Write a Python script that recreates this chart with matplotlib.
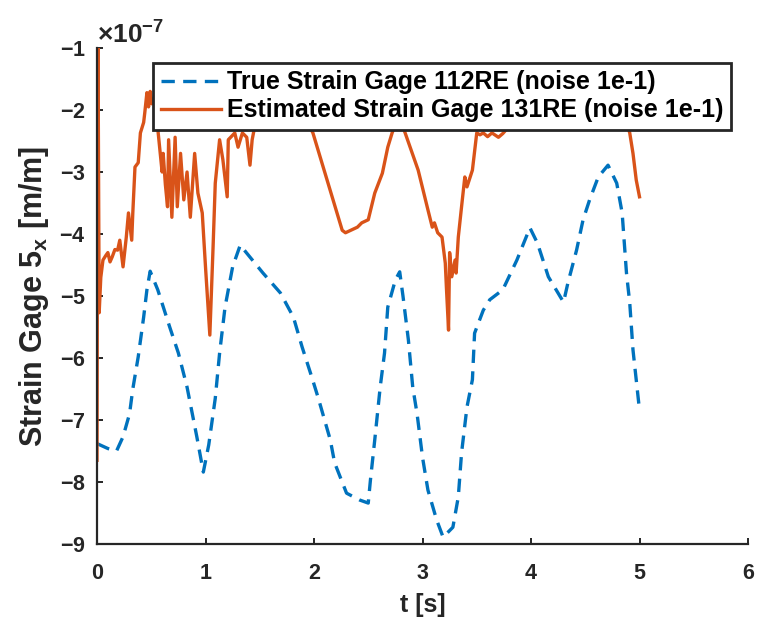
import matplotlib
matplotlib.use("Agg")
import matplotlib.pyplot as plt
import numpy as np
from matplotlib.ticker import ScalarFormatter

plt.rcParams['font.family'] = ['Liberation Sans', 'DejaVu Sans']
plt.rcParams['font.weight'] = 'bold'
plt.rcParams['axes.unicode_minus'] = False
plt.rcParams['mathtext.fontset'] = 'custom'
plt.rcParams['mathtext.rm'] = 'Liberation Sans:bold'
plt.rcParams['mathtext.bf'] = 'Liberation Sans:bold'
plt.rcParams['mathtext.it'] = 'Liberation Sans:bold'
plt.rcParams['mathtext.default'] = 'bf'

# ---- data (strain in units of 1e-7 m/m) ----
t_true = [0, 0.1, 0.18, 0.24, 0.30, 0.33, 0.38, 0.43, 0.46, 0.49, 0.56, 0.67, 0.75,
          0.83, 0.92, 0.98, 1.03, 1.07, 1.09, 1.13, 1.18, 1.25, 1.32, 1.53, 1.69,
          1.81, 1.89, 1.98, 2.04, 2.15, 2.19, 2.30, 2.42, 2.50, 2.52, 2.56, 2.61,
          2.65, 2.68, 2.75, 2.79, 2.82, 2.87, 2.91, 2.95, 3.00, 3.05, 3.13, 3.19,
          3.28, 3.33, 3.36, 3.41, 3.46, 3.48, 3.56, 3.62, 3.74, 3.87, 3.99, 4.06,
          4.16, 4.30, 4.34, 4.42, 4.48, 4.54, 4.62, 4.71, 4.79, 4.84, 4.88, 4.91,
          4.94, 5.00]
y_true = [-7.38, -7.46, -7.50, -7.27, -6.90, -6.50, -5.98, -5.34, -4.90, -4.60,
          -4.90, -5.50, -5.92, -6.47, -7.27, -7.84, -7.40, -6.90, -6.65, -5.92,
          -5.18, -4.53, -4.18, -4.63, -4.95, -5.34, -5.82, -6.31, -6.65, -7.32,
          -7.69, -8.18, -8.29, -8.34, -7.97, -7.32, -6.47, -5.92, -5.18, -4.74,
          -4.61, -5.00, -5.71, -6.47, -6.90, -7.60, -8.13, -8.61, -8.89, -8.73,
          -8.24, -7.53, -6.79, -6.35, -5.60, -5.23, -5.06, -4.90, -4.42, -3.90,
          -4.15, -4.69, -5.10, -4.79, -4.26, -3.77, -3.45, -3.08, -2.89, -3.18,
          -3.66, -4.63, -5.11, -5.87, -6.84]

t_est = [0, 0.008, 0.02, 0.035, 0.055, 0.08, 0.10, 0.12, 0.14, 0.165, 0.19, 0.21,
         0.24, 0.27, 0.29, 0.32, 0.33, 0.35, 0.38, 0.40, 0.43, 0.44, 0.46, 0.475,
         0.49, 0.505, 0.53, 0.56, 0.60, 0.61, 0.63, 0.65, 0.66, 0.69, 0.72, 0.74,
         0.77, 0.80, 0.83, 0.86, 0.90, 0.93, 0.97, 1.00, 1.04, 1.07, 1.09, 1.13,
         1.16, 1.20, 1.21, 1.27, 1.30, 1.34, 1.38, 1.41, 1.43, 1.45, 1.55, 1.70,
         1.85, 1.97, 1.99, 2.26, 2.29, 2.40, 2.44, 2.50, 2.56, 2.63, 2.68, 2.72,
         2.78, 2.84, 2.96, 3.05, 3.09, 3.11, 3.14, 3.18, 3.21, 3.22, 3.24, 3.25,
         3.27, 3.30, 3.31, 3.33, 3.36, 3.39, 3.41, 3.46, 3.50, 3.53, 3.56, 3.60,
         3.64, 3.70, 3.74, 3.78, 3.85, 4.10, 4.40, 4.70, 4.88, 4.91, 4.94, 4.97,
         5.00]
y_est = [-7.65, -0.50, -5.27, -4.70, -4.42, -4.35, -4.30, -4.45, -4.37, -4.25,
         -4.26, -4.10, -4.53, -4.05, -3.66, -4.10, -3.66, -2.92, -2.85, -2.37,
         -2.20, -2.05, -1.72, -1.95, -1.70, -1.90, -1.80, -2.30, -3.00, -2.70,
         -3.20, -3.56, -2.48, -3.73, -2.44, -3.56, -2.70, -3.45, -3.00, -3.73,
         -2.70, -3.34, -3.66, -4.53, -5.63, -4.20, -3.18, -2.48, -2.80, -3.40,
         -2.48, -2.37, -2.60, -2.37, -2.44, -2.89, -2.48, -2.30, -2.00, -1.80,
         -2.00, -2.30, -2.37, -3.94, -3.98, -3.89, -3.82, -3.77, -3.34, -3.02,
         -2.60, -2.37, -2.10, -2.37, -2.97, -3.61, -3.89, -3.82, -3.98, -4.05,
         -4.47, -4.85, -5.55, -4.30, -4.69, -4.42, -4.63, -4.05, -3.56, -3.08,
         -3.24, -2.97, -2.37, -2.40, -2.37, -2.43, -2.37, -2.44, -2.38, -2.30,
         -2.10, -1.90, -2.00, -1.90, -2.20, -2.37, -2.70, -3.13, -3.40]

scale = 1e-7
labels = ['True Strain Gage 112RE (noise 1e-1)',
          'Estimated Strain Gage 131RE (noise 1e-1)']
xticks = [0, 1, 2, 3, 4, 5, 6]
yticks = [-9, -8, -7, -6, -5, -4, -3, -2, -1]

fig = plt.figure(figsize=(7.58, 6.3), dpi=100)
ax = fig.add_axes([97/758, 1-544/630, (748-97)/758, (544-48)/630])

ax.plot(t_true, np.array(y_true)*scale, color='#0072BD', lw=2.4,
        linestyle=(0, (4.0, 2.5)), label=labels[0])
ax.plot(t_est, np.array(y_est)*scale, color='#D95319', lw=2.4,
        label=labels[1])

ax.set_xlim(0, 6)
ax.set_ylim(-9e-7, -1e-7)
ax.set_xticks(xticks)
ax.set_yticks(np.array(yticks)*scale)

fmt = ScalarFormatter(useMathText=True)
fmt.set_powerlimits((0, 0))
ax.yaxis.set_major_formatter(fmt)

for s in ['top', 'right']:
    ax.spines[s].set_visible(False)
for s in ['left', 'bottom']:
    ax.spines[s].set_linewidth(1.6)
    ax.spines[s].set_color('#262626')

ax.tick_params(axis='both', direction='in', length=4.5, width=1.4,
               colors='#262626', labelsize=15.5)
ax.tick_params(axis='x', pad=14)
ax.tick_params(axis='y', pad=8)
for lab in ax.get_xticklabels() + ax.get_yticklabels():
    lab.set_fontweight('bold')
    lab.set_color('#262626')

ot = ax.yaxis.get_offset_text()
ot.set_fontsize(19)
ot.set_color('#262626')

ax.set_xlabel('t [s]', fontsize=18, fontweight='bold', color='#262626', labelpad=6)
ax.set_ylabel('Strain Gage 5$_\\mathbf{x}$ [m/m]', fontsize=22, fontweight='bold',
              color='#262626', labelpad=6)

leg = ax.legend(loc='upper left', bbox_to_anchor=((153-97)/651, (544-63)/496),
                borderaxespad=0, frameon=True, fancybox=False,
                handlelength=2.4, handletextpad=0.25, labelspacing=0.15,
                borderpad=0.3, prop={'weight': 'bold', 'size': 18})
leg.get_frame().set_edgecolor('#262626')
leg.get_frame().set_linewidth(2.0)
leg.get_frame().set_alpha(1)

fig.savefig('out.png', dpi=100)
